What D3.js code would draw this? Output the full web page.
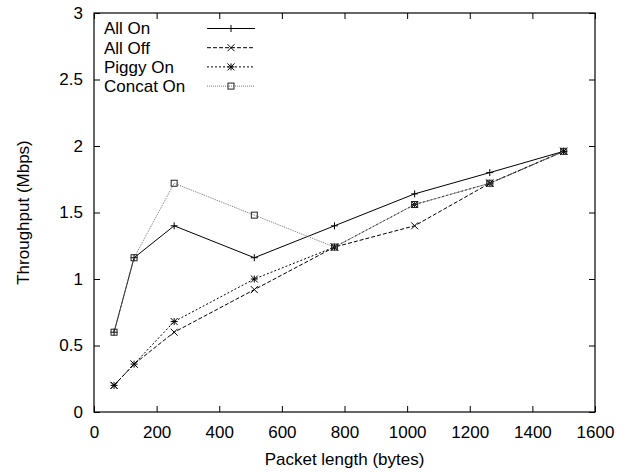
<!DOCTYPE html>
<html>
<head>
<meta charset="utf-8">
<script src="https://cdn.jsdelivr.net/npm/d3@7"></script>
<style>
  body { margin: 0; background: #fff; }
  svg text { font-family: "Liberation Sans", Arial, sans-serif; font-size: 17px; fill: #000; }
</style>
</head>
<body>
<div id="chart"></div>
<script>
// throughput vs packet length, four configurations

var packetLen = [64, 128, 256, 512, 768, 1024, 1264, 1500];
var allOn     = [0.60, 1.16, 1.40, 1.16, 1.40, 1.64, 1.80, 1.96];
var allOff    = [0.20, 0.36, 0.60, 0.92, 1.24, 1.40, 1.72, 1.96];
var piggyOn   = [0.20, 0.36, 0.68, 1.00, 1.24, 1.56, 1.72, 1.96];
var concatOn  = [0.60, 1.16, 1.72, 1.48, 1.24, 1.56, 1.72, 1.96];

var xTicks = [0, 200, 400, 600, 800, 1000, 1200, 1400, 1600];
var yTicks = [0, 0.5, 1, 1.5, 2, 2.5, 3];

var seriesNames = ['All On', 'All Off', 'Piggy On', 'Concat On'];
var seriesVals = [allOn, allOff, piggyOn, concatOn];

var styles = [
    { dash: null, color: '#000', marker: 'plus' },
    { dash: '4,2', color: '#000', marker: 'cross' },
    { dash: '2,2', color: '#000', marker: 'star' },
    { dash: '1,1', color: '#777', marker: 'square' }
];

var width = 631, height = 473;
var margin = { left: 94, right: 36, top: 13, bottom: 61 };

var svg = d3.select('#chart').append('svg')
    .attr('width', width)
    .attr('height', height);

var x = d3.scaleLinear().domain([0, 1600]).range([margin.left, width - margin.right]);
var y = d3.scaleLinear().domain([0, 3]).range([height - margin.bottom, margin.top]);

var g = svg.append('g');

// frame
g.append('rect')
    .attr('x', x(0))
    .attr('y', y(3))
    .attr('width', x(1600) - x(0))
    .attr('height', y(0) - y(3))
    .attr('fill', 'none')
    .attr('stroke', '#000')
    .attr('stroke-width', 1.2);

var tickLen = 6;

// axes, ticks pointing in, mirrored on top / right
var xAxis = d3.axisBottom(x).tickValues(xTicks).tickSize(-tickLen).tickPadding(14).tickFormat(d3.format('d'));
var yAxis = d3.axisLeft(y).tickValues(yTicks).tickSize(-tickLen).tickPadding(11).tickFormat(function(d){ return String(d); });

var gx = g.append('g').attr('transform', 'translate(0,' + y(0) + ')').call(xAxis);
var gy = g.append('g').attr('transform', 'translate(' + x(0) + ',0)').call(yAxis);
var gx2 = g.append('g').attr('transform', 'translate(0,' + y(3) + ')')
    .call(d3.axisTop(x).tickValues(xTicks).tickSize(-tickLen).tickFormat(''));
var gy2 = g.append('g').attr('transform', 'translate(' + x(1600) + ',0)')
    .call(d3.axisRight(y).tickValues(yTicks).tickSize(-tickLen).tickFormat(''));

[gx, gy, gx2, gy2].forEach(function(a){
    a.select('.domain').remove();
    a.selectAll('.tick line').attr('stroke', '#000');
    a.selectAll('text').style('font-size', '17px').attr('fill', '#000')
        .style('font-family', '"Liberation Sans", Arial, sans-serif');
});

// axis titles
g.append('text')
    .attr('x', (x(0) + x(1600)) / 2)
    .attr('y', 465)
    .attr('text-anchor', 'middle')
    .text('Packet length (bytes)');

g.append('text')
    .attr('transform', 'translate(29,' + ((y(0) + y(3)) / 2) + ') rotate(-90)')
    .attr('text-anchor', 'middle')
    .text('Throughput (Mbps)');

function drawMarker(sel, type, color) {
    var s = 3.5;
    if (type == 'plus') {
        sel.append('path').attr('d', 'M' + (-s) + ',0H' + s + 'M0,' + (-s) + 'V' + s)
            .attr('stroke', color).attr('stroke-width', 1).attr('fill', 'none');
    } else if (type == 'cross') {
        sel.append('path').attr('d', 'M' + (-s) + ',' + (-s) + 'L' + s + ',' + s + 'M' + (-s) + ',' + s + 'L' + s + ',' + (-s))
            .attr('stroke', color).attr('stroke-width', 1).attr('fill', 'none');
    } else if (type == 'star') {
        sel.append('path').attr('d', 'M' + (-s) + ',0H' + s + 'M0,' + (-s) + 'V' + s +
                'M' + (-s) + ',' + (-s) + 'L' + s + ',' + s + 'M' + (-s) + ',' + s + 'L' + s + ',' + (-s))
            .attr('stroke', color).attr('stroke-width', 1).attr('fill', 'none');
    } else {
        sel.append('rect').attr('x', -3).attr('y', -3).attr('width', 6).attr('height', 6)
            .attr('stroke', '#222').attr('stroke-width', 1).attr('fill', 'none');
    }
}

var line = d3.line()
    .x(function(d){ return x(d[0]); })
    .y(function(d){ return y(d[1]); });

seriesVals.forEach(function(vals, i){
    var st = styles[i];
    var pts = packetLen.map(function(p, j){ return [p, vals[j]]; });

    g.append('path')
        .datum(pts)
        .attr('d', line)
        .attr('fill', 'none')
        .attr('stroke', st.color)
        .attr('stroke-width', 1)
        .attr('stroke-dasharray', st.dash);

    g.selectAll('g.m' + i)
        .data(pts)
        .enter()
        .append('g')
        .attr('class', 'm' + i)
        .attr('transform', function(d){ return 'translate(' + x(d[0]) + ',' + y(d[1]) + ')'; })
        .each(function(){ drawMarker(d3.select(this), st.marker, '#000'); });
});

// legend
var legend = g.append('g');
seriesNames.forEach(function(name, i){
    var ly = 28.5 + i * 19.2;
    var st = styles[i];
    legend.append('text')
        .attr('x', 104)
        .attr('y', ly)
        .attr('dy', '0.35em')
        .text(name);
    legend.append('line')
        .attr('x1', 207).attr('x2', 255)
        .attr('y1', ly).attr('y2', ly)
        .attr('stroke', st.color)
        .attr('stroke-width', 1)
        .attr('stroke-dasharray', st.dash);
    var m = legend.append('g').attr('transform', 'translate(231,' + ly + ')');
    drawMarker(m, st.marker, '#000');
});
</script>
</body>
</html>
